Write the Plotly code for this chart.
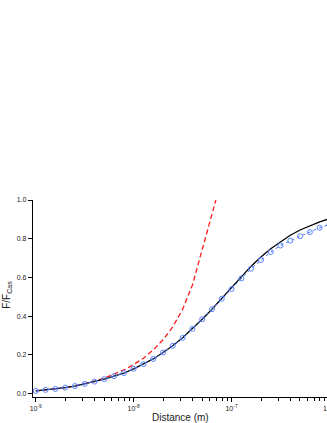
import plotly.graph_objects as go

# distance exponents (log10 of metres), 0.1 decade steps
exps = [-9.0, -8.9, -8.8, -8.7, -8.6, -8.5, -8.4, -8.3, -8.2, -8.1,
        -8.0, -7.9, -7.8, -7.7, -7.6, -7.5, -7.4, -7.3, -7.2, -7.1,
        -7.0, -6.9, -6.8, -6.7, -6.6, -6.5, -6.4, -6.3, -6.2, -6.1, -6.0]
distance = [10 ** e for e in exps]

# exact result (solid black)
exact = [0.014, 0.019, 0.024, 0.031, 0.039, 0.050, 0.062, 0.075, 0.090, 0.106,
         0.128, 0.152, 0.179, 0.212, 0.247, 0.288, 0.334, 0.384, 0.436, 0.490,
         0.545, 0.603, 0.658, 0.706, 0.748, 0.785, 0.818, 0.845, 0.868, 0.887, 0.903]

# approximation (blue circles, dotted)
approx = [0.014, 0.019, 0.024, 0.031, 0.039, 0.050, 0.062, 0.075, 0.090, 0.106,
          0.128, 0.152, 0.179, 0.212, 0.247, 0.288, 0.334, 0.384, 0.436, 0.490,
          0.540, 0.595, 0.645, 0.690, 0.731, 0.765, 0.790, 0.813, 0.834, 0.857, 0.873]

# short-distance limit (red dashed)
red_exps = [-9.0, -8.9, -8.8, -8.7, -8.6, -8.5, -8.4, -8.3, -8.2, -8.1,
            -8.0, -7.9, -7.8, -7.7, -7.6, -7.5, -7.4, -7.3, -7.2, -7.16]
red_distance = [10 ** e for e in red_exps]
short_limit = [0.014, 0.019, 0.024, 0.031, 0.040, 0.051, 0.064, 0.080, 0.099, 0.122,
               0.150, 0.183, 0.225, 0.278, 0.345, 0.435, 0.560, 0.740, 0.930, 1.0]

major_ticks = [1e-9, 1e-8, 1e-7]
major_text = ["10<sup>-9</sup>", "10<sup>-8</sup>", "10<sup>-7</sup>"]
minor_ticks = [m * 10 ** d for d in (-9, -8, -7) for m in range(2, 10)]

W, H = 327, 423
left, right, top, bottom = 33.3, 0, 200, 26.3
plot_w = W - left - right
plot_h = H - top - bottom

# window pixel -> paper fraction
def px_x(x):
    return (x - left) / plot_w

def px_y(y):
    return (H - bottom - y) / plot_h

fig = go.Figure()

fig.add_trace(go.Scatter(
    x=red_distance, y=short_limit, mode='lines',
    line=dict(color='#ff1a1a', width=1.3, dash='5px,3px'),
    showlegend=False
))

fig.add_trace(go.Scatter(
    x=distance, y=exact, mode='lines',
    line=dict(color='black', width=1.3),
    showlegend=False
))

fig.add_trace(go.Scatter(
    x=distance, y=approx, mode='lines+markers',
    line=dict(color='#3a6bff', width=1, dash='dot'),
    marker=dict(symbol='circle-open', size=5, color='#5a85ff', line=dict(width=1)),
    showlegend=False
))

fig.update_layout(
    width=W, height=H,
    margin=dict(l=left, r=right, t=top, b=bottom, pad=0, autoexpand=False),
    plot_bgcolor='white', paper_bgcolor='white',
    font=dict(family='Liberation Sans, Arial, sans-serif', color='#222', size=7),
    xaxis=dict(
        type='log', range=[-9.028, -6.025], automargin=False,
        showline=True, linecolor='black', linewidth=1.2,
        showgrid=False, zeroline=False,
        ticks='outside', ticklen=4, tickwidth=1, tickcolor='black',
        tickvals=major_ticks, ticktext=major_text,
        tickfont=dict(size=7),
        minor=dict(tickvals=minor_ticks, ticks='outside', ticklen=2.5,
                   tickwidth=1, tickcolor='black', showgrid=False),
    ),
    yaxis=dict(
        range=[-0.0176, 1.0], automargin=False,
        showline=True, linecolor='black', linewidth=1.2,
        showgrid=False, zeroline=False,
        ticks='outside', ticklen=4, tickwidth=1, tickcolor='black',
        tickvals=[0, 0.2, 0.4, 0.6, 0.8, 1.0], tickformat='.1f',
        tickfont=dict(size=7),
    ),
)

# axis titles placed by hand so they stay inside the small window
fig.add_annotation(
    x=px_x(181), y=px_y(417), xref='paper', yref='paper',
    text='Distance (m)', showarrow=False, xanchor='center', yanchor='middle',
    font=dict(size=10)
)
fig.add_annotation(
    x=px_x(7), y=px_y(295), xref='paper', yref='paper',
    text='F/F<sub>Cas</sub>', showarrow=False, textangle=-90,
    xanchor='center', yanchor='middle', font=dict(size=10)
)

# 10^-6 label sits just past the right edge of the window
fig.add_annotation(
    x=px_x(329.3), y=0, xref='paper', yref='paper',
    text='10<sup>-6</sup>', showarrow=False, yanchor='top', xanchor='center',
    yshift=-5, font=dict(size=7)
)

# drop the default 8px body margin so the figure sits at the window corner
fig.write_html("out.html", config={'displayModeBar': False},
               post_script="document.body.style.margin='0';")
